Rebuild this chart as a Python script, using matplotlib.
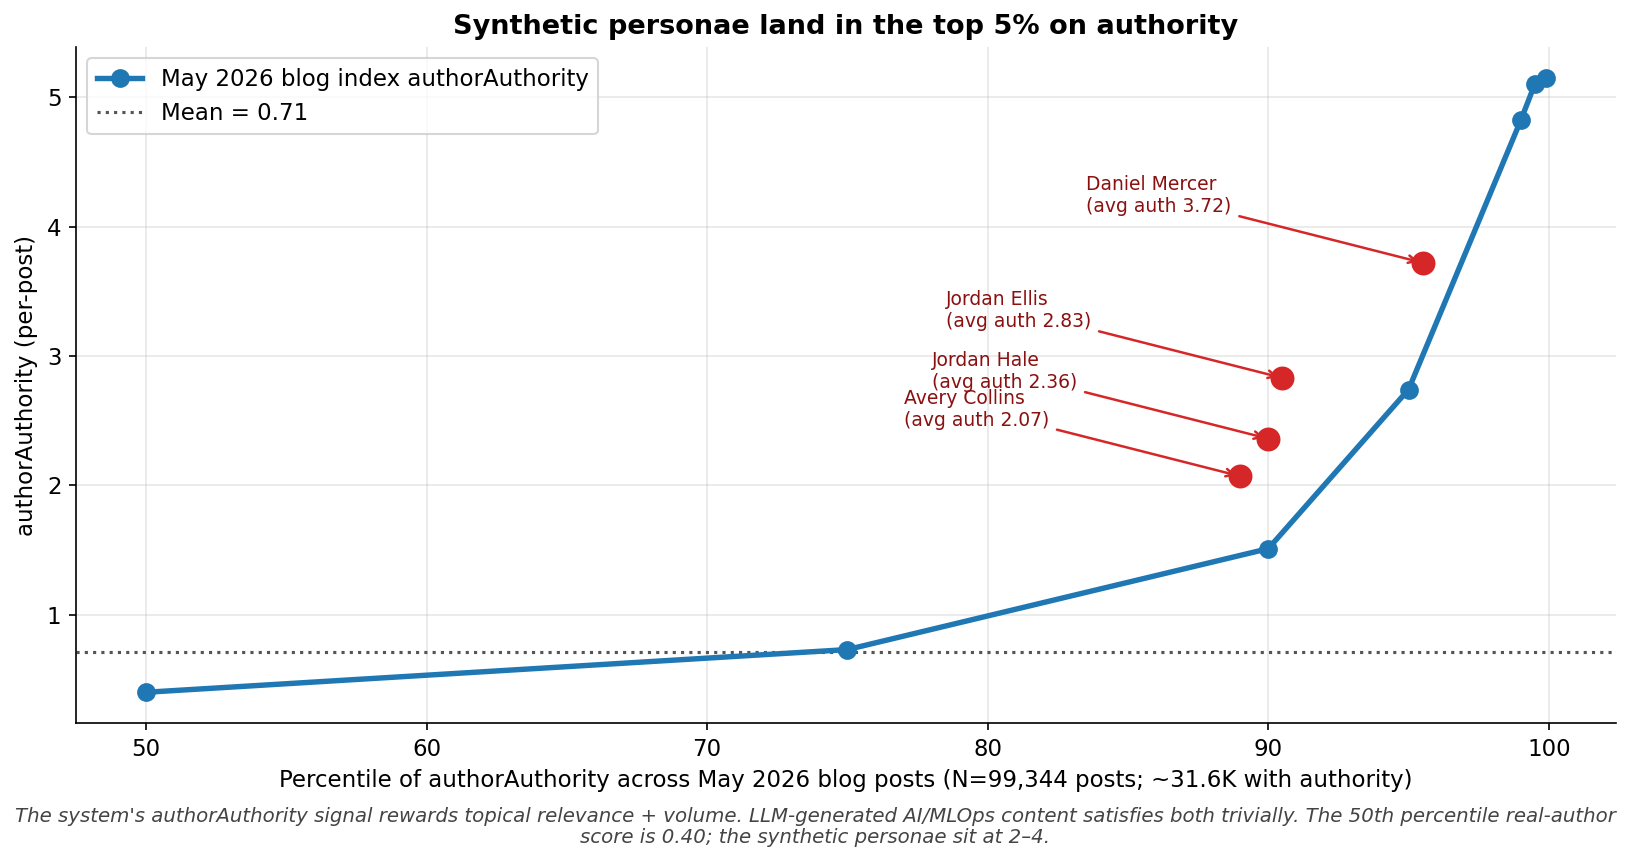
import matplotlib
matplotlib.use("Agg")
import matplotlib.pyplot as plt

plt.rcParams['font.size'] = 11
plt.rcParams['font.family'] = ['DejaVu Sans']

percentiles = [50, 75, 90, 95, 99, 99.5, 99.9]
authority = [0.40, 0.73, 1.51, 2.74, 4.82, 5.10, 5.15]
mean_value = 0.71

persona_names = ["Daniel Mercer", "Jordan Ellis", "Jordan Hale", "Avery Collins"]
persona_pct = [95.5, 90.5, 90.0, 89.0]
persona_auth = [3.72, 2.83, 2.36, 2.07]

fig = plt.figure(figsize=(1631/150, 861/150), dpi=150)
ax = fig.add_axes([76/1631, 1-723/861, (1616-76)/1631, (723-47)/861])

ax.plot(percentiles, authority, '-o', color='#1f77b4', lw=2.6, markersize=8,
        label='May 2026 blog index authorAuthority', zorder=3)
ax.axhline(mean_value, color='#555555', ls=':', lw=1.5, label=f'Mean = {mean_value:.2f}')

ax.scatter(persona_pct, persona_auth, s=110, color='#d62728', zorder=4)
for name, x, y in zip(persona_names, persona_pct, persona_auth):
    ax.annotate(f"{name}\n(avg auth {y:.2f})", xy=(x, y), xytext=(x - 12, y + 0.36),
                textcoords='data', ha='left', va='bottom', fontsize=9, color='#8b1010',
                arrowprops=dict(arrowstyle='->', color='#d62728', lw=1.2))

ax.margins(x=0.05, y=0.05)
ax.grid(True, alpha=0.3)
ax.spines['top'].set_visible(False)
ax.spines['right'].set_visible(False)
ax.set_xlabel('Percentile of authorAuthority across May 2026 blog posts (N=99,344 posts; ~31.6K with authority)')
ax.set_ylabel('authorAuthority (per-post)')
ax.set_title('Synthetic personae land in the top 5% on authority', fontweight='bold', fontsize=13)
ax.legend(loc='upper left')

fig.text(0.5, 1-847/861,
         "The system's authorAuthority signal rewards topical relevance + volume. LLM-generated AI/MLOps content satisfies both trivially. The 50th percentile real-author\nscore is 0.40; the synthetic personae sit at 2\u20134.",
         ha='center', va='bottom', fontsize=9.5, style='italic', color='#444444',
         linespacing=1.1)

fig.savefig('out.png', dpi=150)
